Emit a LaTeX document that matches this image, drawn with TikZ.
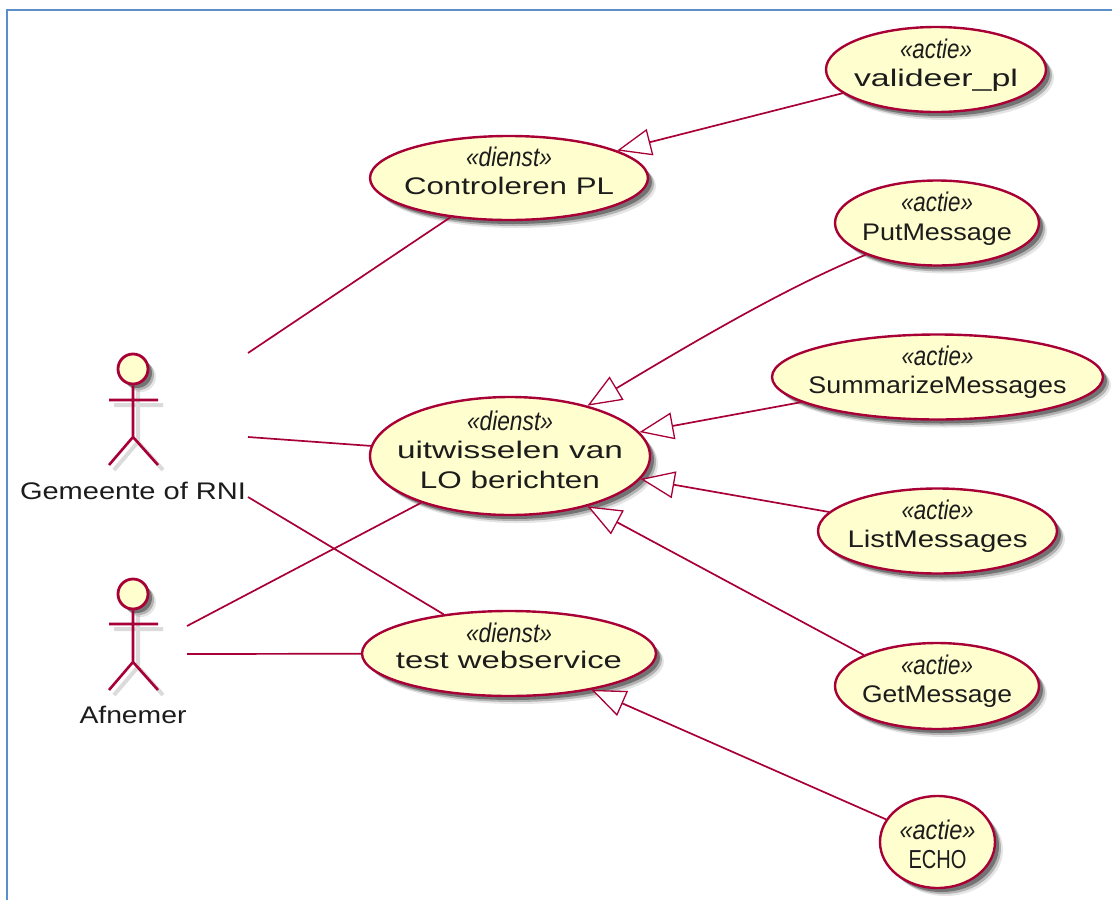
\documentclass[tikz,border=0pt]{standalone}
\usepackage{graphicx}
\usepackage{fontspec}
\setmainfont{Liberation Sans}
\usetikzlibrary{shapes.geometric,arrows.meta,shadows}
\definecolor{umlline}{HTML}{A80036}
\definecolor{umlfill}{HTML}{FEFECE}
\definecolor{framecol}{HTML}{5B8FCB}
\definecolor{txt}{HTML}{1C1C1C}
% one overlaid text line: baseline offset, width, text
\newcommand\tl[3]{\makebox[0pt]{\raisebox{#1}[0pt][0pt]{\resizebox{#2}{\height}{#3}}}}
\newcommand\stA[1][11.5pt]{\tl{#1}{72pt}{\fontsize{27}{27}\selectfont\itshape «actie»}}
\newcommand\stD[1][11.5pt]{\tl{#1}{86pt}{\fontsize{27}{27}\selectfont\itshape «dienst»}}
\tikzset{
  x=1pt,y=-1pt,
  softshadow/.style={
    preaction={draw=none,fill=black,opacity=.10,transform canvas={shift={(8pt,-8pt)}}},
    preaction={draw=none,fill=black,opacity=.22,transform canvas={shift={(6pt,-6pt)}}},
    preaction={draw=none,fill=black,opacity=.35,transform canvas={shift={(4pt,-4pt)}}}},
  usecase/.style={ellipse,draw=umlline,fill=umlfill,line width=2.4pt,inner sep=0pt,
    text=txt,font=\fontsize{24}{24}\selectfont,softshadow},
  actorhead/.style={circle,draw=umlline,fill=umlfill,line width=2.8pt,inner sep=0pt,minimum size=30pt,softshadow},
  actorlimb/.style={draw=umlline,line width=2.6pt},
  limbshadow/.style={draw=black,opacity=.14,line width=4pt,shift={(5pt,-5pt)}},
  actorname/.style={text=txt,inner sep=0pt,font=\fontsize{24}{24}\selectfont},
  assoc/.style={draw=umlline,line width=1.7pt},
  ext/.style={draw=umlline,line width=1.7pt,-{Triangle[length=34pt,width=27pt,fill=white,line width=1.3pt]}},
  frameline/.style={draw=framecol,line width=1.5pt}
}
\begin{document}
\begin{tikzpicture}
\useasboundingbox (0,0) rectangle (1112,900);
\fill[white] (0,0) rectangle (1112,900);
\draw[frameline] (7,900) -- (7,10) -- (1112,10);

% use cases
\node[usecase,minimum width=220pt,minimum height=85pt] (valideer) at (936,69.5)
  {\stA[11.5pt]\tl{-16.5pt}{164pt}{valideer\_pl}};
\node[usecase,minimum width=278pt,minimum height=84pt] (controleren) at (509,178)
  {\stD[11.5pt]\tl{-16pt}{210pt}{Controleren PL}};
\node[usecase,minimum width=204pt,minimum height=85pt] (put) at (937,223)
  {\stA[11.5pt]\tl{-17pt}{150pt}{PutMessage}};
\node[usecase,minimum width=331pt,minimum height=85pt] (summarize) at (937.5,377)
  {\stA[11.5pt]\tl{-16pt}{258pt}{SummarizeMessages}};
\node[usecase,minimum width=239pt,minimum height=85pt] (list) at (937.5,531)
  {\stA[11.5pt]\tl{-16pt}{180pt}{ListMessages}};
\node[usecase,minimum width=204pt,minimum height=86pt] (get) at (937,686)
  {\stA[11.5pt]\tl{-16.5pt}{150pt}{GetMessage}};
\node[usecase,minimum width=280pt,minimum height=118pt] (uitwisselen) at (510,456)
  {\stD[26pt]\tl{-2.5pt}{226pt}{uitwisselen van}\tl{-32pt}{180pt}{LO berichten}};
\node[usecase,minimum width=294pt,minimum height=85pt] (test) at (509,653.5)
  {\stD[11.5pt]\tl{-15pt}{226pt}{test webservice}};
\node[usecase,minimum width=115pt,minimum height=92pt] (echo) at (937.5,842)
  {\tl{3pt}{76pt}{\fontsize{27}{27}\selectfont\itshape «actie»}\tl{-26pt}{58pt}{\fontsize{26}{26}\selectfont ECHO}};

% actors
\draw[limbshadow] (133,385)--(133,437)--(109,465) (133,437)--(158,465) (109,400)--(158,400);
\draw[limbshadow] (133,610)--(133,662)--(109,690) (133,662)--(158,690) (109,624)--(158,624);
\node[actorhead] (gemeente) at (133,369) {};
\node[actorhead] (afnemer) at (133,594) {};
\draw[actorlimb] (gemeente.south) -- (133,437) -- (109,465) (133,437) -- (158,465) (109,400) -- (158,400);
\draw[actorlimb] (afnemer.south) -- (133,662) -- (109,690) (133,662) -- (158,690) (109,624) -- (158,624);
\node[actorname] (gemeentename) at (133,491) {\resizebox{226pt}{\height}{Gemeente of RNI}};
\node[actorname] (afnemername) at (133,715) {\resizebox{107pt}{\height}{Afnemer}};

% free ends of the actor associations
\coordinate (g1) at (248,353);
\coordinate (g2) at (248,437);
\coordinate (g3) at (248,497);
\coordinate (a1) at (187,626);
\coordinate (a2) at (187,654);

\draw[assoc] (g1) -- (controleren);
\draw[assoc] (g2) -- (uitwisselen);
\draw[assoc] (g3) -- (test);
\draw[assoc] (a1) -- (uitwisselen);
\draw[assoc] (a2) -- (test);

% extensions
\draw[ext] (valideer) -- (controleren);
\draw[ext] (put.204) .. controls (800,282) and (730,320) .. (uitwisselen.33.5);
\draw[ext] (summarize) -- (uitwisselen);
\draw[ext] (list) -- (uitwisselen);
\draw[ext] (get.157) -- (uitwisselen.-33);
\draw[ext] (echo) -- (test);
\end{tikzpicture}
\end{document}
